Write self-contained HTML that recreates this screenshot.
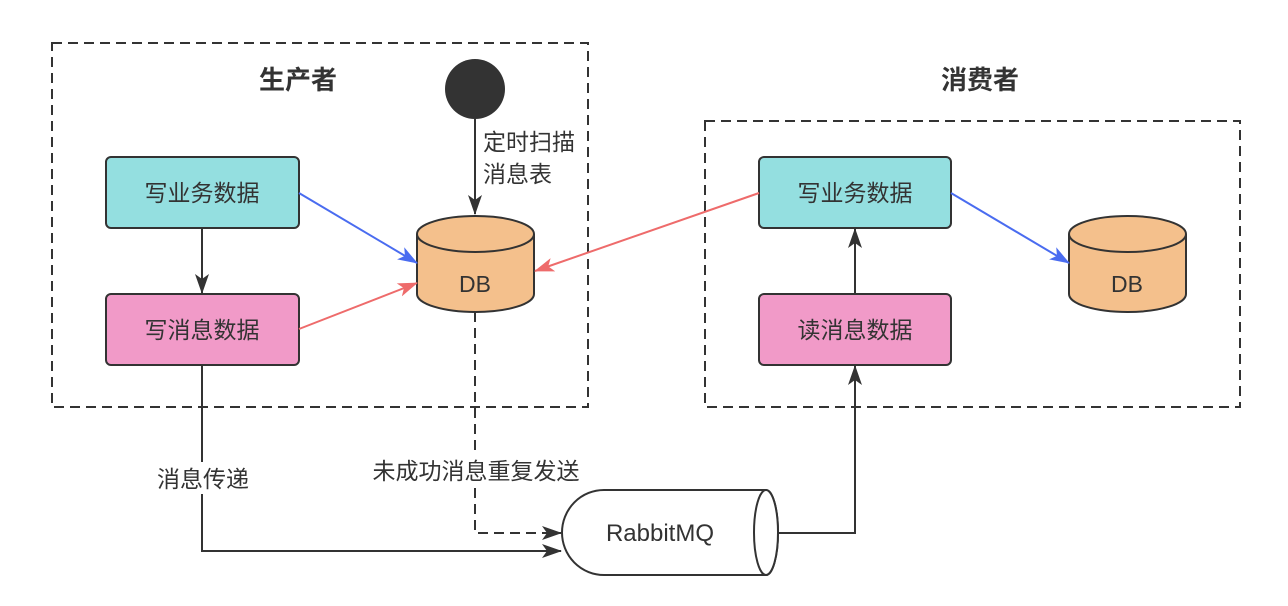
<!DOCTYPE html>
<html><head><meta charset="utf-8"><style>
body{margin:0;background:#fff;}
svg text{font-family:"Liberation Sans","Noto Sans CJK SC",sans-serif;fill:#333;}
</style></head><body>
<svg width="1288" height="601" viewBox="0 0 1288 601" xmlns="http://www.w3.org/2000/svg">
<defs>
<marker id="ab" markerWidth="20" markerHeight="16" refX="19" refY="8" orient="auto" markerUnits="userSpaceOnUse" viewBox="0 0 20 16"><path d="M0,1 L20,8 L0,15 L5,8 z" fill="#4a6cf0"/></marker>
<marker id="ar" markerWidth="20" markerHeight="16" refX="19" refY="8" orient="auto" markerUnits="userSpaceOnUse" viewBox="0 0 20 16"><path d="M0,1 L20,8 L0,15 L5,8 z" fill="#ee6b6b"/></marker>
<marker id="ak2" markerWidth="20" markerHeight="16" refX="19" refY="8" orient="auto" markerUnits="userSpaceOnUse" viewBox="0 0 20 16"><path d="M0,1 L20,8 L0,15 L5,8 z" fill="#333"/></marker>
</defs>
<g fill="none" stroke="#333" stroke-width="2" stroke-dasharray="10,6">
<rect x="52" y="43" width="536" height="364"/>
<rect x="705" y="121" width="535" height="286"/>
</g>
<text x="298" y="89" font-size="26" font-weight="bold" text-anchor="middle">生产者</text>
<text x="980" y="89" font-size="26" font-weight="bold" text-anchor="middle">消费者</text>
<circle cx="475" cy="89" r="30" fill="#333"/>
<line x1="475" y1="119" x2="475" y2="214" stroke="#333" stroke-width="2" marker-end="url(#ak2)"/>
<text x="483" y="150" font-size="23">定时扫描</text>
<text x="483" y="182" font-size="23">消息表</text>
<g stroke="#333" stroke-width="2">
<rect x="106" y="157" width="193" height="71" rx="5" fill="#94dfe0"/>
<rect x="106" y="294" width="193" height="71" rx="5" fill="#f19ac8"/>
<rect x="759" y="157" width="192" height="71" rx="5" fill="#94dfe0"/>
<rect x="759" y="294" width="192" height="71" rx="5" fill="#f19ac8"/>
</g>
<g font-size="23" text-anchor="middle">
<text x="202" y="201">写业务数据</text>
<text x="202" y="338">写消息数据</text>
<text x="855" y="201">写业务数据</text>
<text x="855" y="338">读消息数据</text>
</g>
<g stroke="#333" stroke-width="2" fill="#f4c08c">
<path d="M417,234 L417,294 A58.5,18 0 0 0 534,294 L534,234 A58.5,18 0 0 0 417,234 Z"/>
<path d="M417,234 A58.5,18 0 0 0 534,234"/>
<path d="M1069,234 L1069,294 A58.5,18 0 0 0 1186,294 L1186,234 A58.5,18 0 0 0 1069,234 Z"/>
<path d="M1069,234 A58.5,18 0 0 0 1186,234"/>
</g>
<text x="475" y="292" font-size="23" text-anchor="middle">DB</text>
<text x="1127" y="292" font-size="23" text-anchor="middle">DB</text>
<line x1="202" y1="228" x2="202" y2="293" stroke="#333" stroke-width="2" marker-end="url(#ak2)"/>
<line x1="299" y1="193" x2="417" y2="263" stroke="#4a6cf0" stroke-width="2" marker-end="url(#ab)"/>
<line x1="299" y1="329" x2="417" y2="283" stroke="#ee6b6b" stroke-width="2" marker-end="url(#ar)"/>
<line x1="759" y1="193" x2="535" y2="271" stroke="#ee6b6b" stroke-width="2" marker-end="url(#ar)"/>
<line x1="951" y1="193" x2="1069" y2="263" stroke="#4a6cf0" stroke-width="2" marker-end="url(#ab)"/>
<line x1="855" y1="294" x2="855" y2="229" stroke="#333" stroke-width="2" marker-end="url(#ak2)"/>
<path d="M475,312 L475,533 L561,533" fill="none" stroke="#333" stroke-width="2" stroke-dasharray="10,6" marker-end="url(#ak2)"/>
<path d="M202,365 L202,551 L561,551" fill="none" stroke="#333" stroke-width="2" marker-end="url(#ak2)"/>
<path d="M778,533 L855,533 L855,366" fill="none" stroke="#333" stroke-width="2" marker-end="url(#ak2)"/>
<rect x="150" y="462" width="104" height="32" fill="#fff"/>
<text x="203" y="487" font-size="23" text-anchor="middle">消息传递</text>
<rect x="366" y="455" width="220" height="32" fill="#fff"/>
<text x="476" y="479" font-size="23" text-anchor="middle">未成功消息重复发送</text>
<path d="M604,490 L766,490 A12,42.5 0 0 1 766,575 L604,575 A42,42.5 0 0 1 604,490 Z" fill="#fff" stroke="#333" stroke-width="2"/>
<ellipse cx="766" cy="532.5" rx="12" ry="42.5" fill="#fff" stroke="#333" stroke-width="2"/>
<text x="660" y="541" font-size="24" text-anchor="middle">RabbitMQ</text>
</svg>
</body></html>
